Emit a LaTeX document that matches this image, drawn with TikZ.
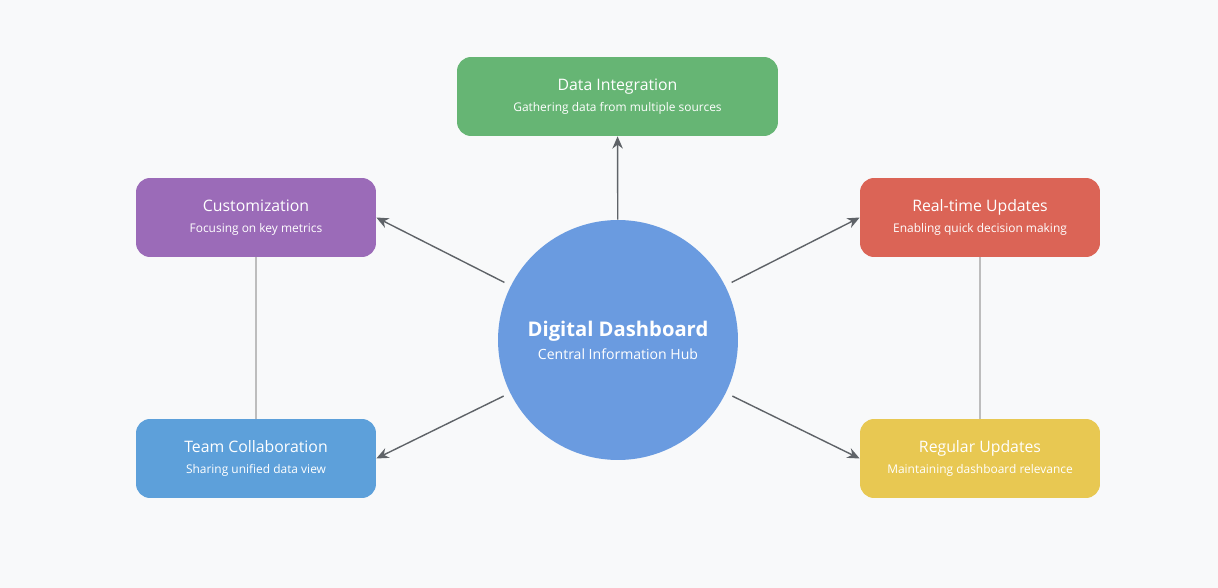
\documentclass[tikz,border=0pt]{standalone}
\usepackage{fontspec}
\setmainfont{Open Sans}
\usetikzlibrary{arrows.meta, positioning}
\definecolor{bgcol}{HTML}{F8F9FA}
\definecolor{hubcol}{HTML}{6A9BE0}
\definecolor{greencol}{HTML}{66B574}
\definecolor{purplecol}{HTML}{9B6BB8}
\definecolor{redcol}{HTML}{DB6456}
\definecolor{bluecol}{HTML}{5DA0DA}
\definecolor{yellowcol}{HTML}{E8C852}
\definecolor{arrowcol}{HTML}{5F6368}
\definecolor{linkcol}{HTML}{BDBDBD}
\tikzset{
  box/.style={rounded corners=8pt, minimum height=1.58cm, text=white, align=center, font=\fontsize{9}{14}\selectfont},
  arrow/.style={-{Stealth[length=7pt,width=6pt]}, thick, draw=arrowcol, shorten <=4pt},
  link/.style={draw=linkcol, thick}
}
\newcommand{\sub}[1]{\\[-2pt]{\fontsize{6.8}{9}\selectfont #1}}
\begin{document}
\begin{tikzpicture}[x=0.02cm, y=-0.02cm]
  \fill[bgcol] (0,0) rectangle (1218,588);

  % Hub
  \node[circle, fill=hubcol, minimum size=4.8cm, text=white, align=center] (hub) at (618,340)
    {{\fontsize{11.5}{14}\selectfont\bfseries Digital Dashboard}\\[1pt]{\fontsize{8}{10}\selectfont Central Information Hub}};

  % Boxes
  \node[box, fill=greencol, minimum width=6.42cm] (integ) at (617.5,96.5) {Data Integration\sub{Gathering data from multiple sources}};
  \node[box, fill=purplecol, minimum width=4.8cm] (custom) at (256,217.5) {Customization\sub{Focusing on key metrics}};
  \node[box, fill=redcol, minimum width=4.8cm] (realtime) at (980,217.5) {Real-time Updates\sub{Enabling quick decision making}};
  \node[box, fill=bluecol, minimum width=4.8cm] (team) at (256,458.5) {Team Collaboration\sub{Sharing unified data view}};
  \node[box, fill=yellowcol, minimum width=4.8cm] (regular) at (980,458.5) {Regular Updates\sub{Maintaining dashboard relevance}};

  % Arrows
  \draw[arrow, shorten <=0pt] (hub) -- (integ);
  \draw[arrow] (hub) -- (custom.east);
  \draw[arrow] (hub) -- (realtime.west);
  \draw[arrow] (hub) -- (team.east);
  \draw[arrow] (hub) -- (regular.west);

  % Links
  \draw[link] (custom) -- (team);
  \draw[link] (realtime) -- (regular);
\end{tikzpicture}
\end{document}
